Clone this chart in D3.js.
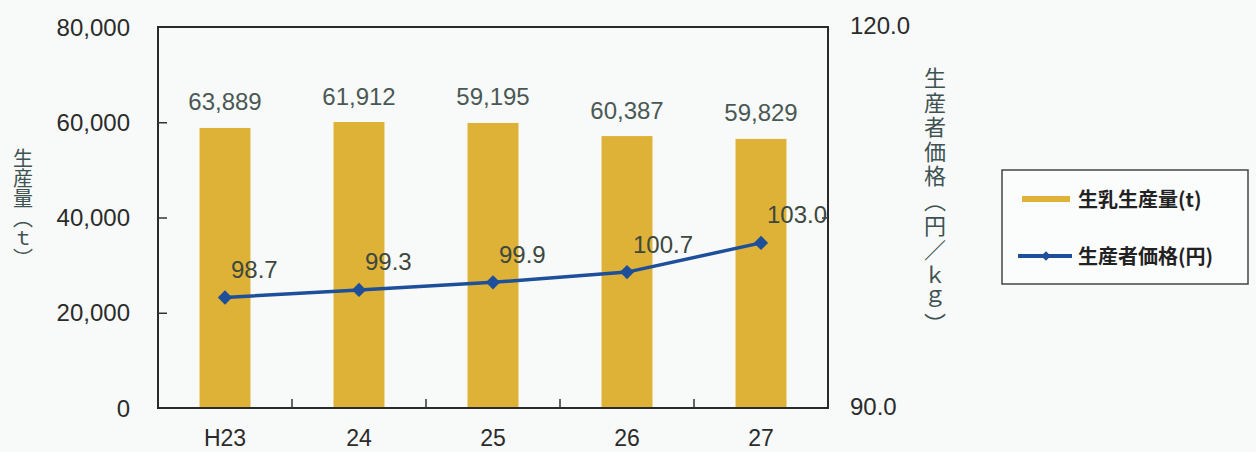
<!DOCTYPE html>
<html>
<head>
<meta charset="utf-8">
<script src="https://cdn.jsdelivr.net/npm/d3@7"></script>
<style>
  html, body { margin: 0; padding: 0; background: #f8faf9; }
  svg { display: block; }
  .vtitle { writing-mode: vertical-rl; }
</style>
</head>
<body>
<svg id="chart" width="1256" height="452"></svg>
<script>
// ---- data ----
const categories = ["H23", "24", "25", "26", "27"];
// value labels printed above the bars (t)
const productionLabels = [63889, 61912, 59195, 60387, 59829];
// bar heights as drawn in the picture (t)
const productionBars = [58800, 60050, 59850, 57100, 56500];
// producer price (yen/kg)
const producerPrice = [98.7, 99.3, 99.9, 100.7, 103.0];
const leftTicks = [0, 20000, 40000, 60000, 80000];
const rightTicks = [90, 120];
const leftTitle = "生産量（ｔ）";
const rightTitle = "生産者価格（円／ｋｇ）";
const legendItems = ["生乳生産量(t)", "生産者価格(円)"];

// ---- layout ----
const plot = { left: 158, right: 828, top: 27, bottom: 408 };
const barColor = "#ddb236";
const lineColor = "#1d4f9b";
const numFont = "'Liberation Sans', Arial, sans-serif";
const cjkFont = "'Noto Sans CJK JP', sans-serif";

const svg = d3.select("#chart");

const x = d3.scaleBand().domain(categories).range([plot.left, plot.right]).padding(0);
const yL = d3.scaleLinear().domain([0, 80000]).range([plot.bottom, plot.top]);
const yR = d3.scaleLinear().domain([90, 120]).range([plot.bottom, plot.top]);
const fmt = d3.format(",");

// bars
const barW = x.bandwidth() * 0.38;
svg.append("g").selectAll("rect").data(productionBars).join("rect")
  .attr("x", (d, i) => x(categories[i]) + x.bandwidth() / 2 - barW / 2)
  .attr("y", d => yL(d))
  .attr("width", barW)
  .attr("height", d => yL(0) - yL(d))
  .attr("fill", barColor);

// bar labels
svg.append("g").selectAll("text").data(productionLabels).join("text")
  .attr("x", (d, i) => x(categories[i]) + x.bandwidth() / 2)
  .attr("y", (d, i) => yL(productionBars[i]) - 26)
  .attr("text-anchor", "middle")
  .attr("dominant-baseline", "central")
  .attr("font-family", numFont)
  .attr("font-size", 24)
  .attr("fill", "#4a5855")
  .text(d => fmt(d));

// frame
svg.append("rect")
  .attr("x", plot.left).attr("y", plot.top)
  .attr("width", plot.right - plot.left).attr("height", plot.bottom - plot.top)
  .attr("fill", "none").attr("stroke", "#2a2a2a").attr("stroke-width", 2);

// left axis (ticks inward)
const leftAxis = d3.axisRight(yL).tickValues(leftTicks).tickSize(9).tickFormat("");
const gL = svg.append("g").attr("transform", `translate(${plot.left},0)`).call(leftAxis);
gL.select(".domain").remove();
gL.selectAll(".tick line").attr("stroke", "#333").attr("stroke-width", 1.5)
  .filter(d => d === 0 || d === 80000).remove();
svg.append("g").selectAll("text").data(leftTicks).join("text")
  .attr("x", 130).attr("y", d => yL(d))
  .attr("text-anchor", "end").attr("dominant-baseline", "central")
  .attr("font-family", numFont).attr("font-size", 24).attr("fill", "#2b2b2b")
  .text(d => fmt(d));

// right axis labels
svg.append("g").selectAll("text").data(rightTicks).join("text")
  .attr("x", plot.right + 22).attr("y", d => yR(d) - 2)
  .attr("text-anchor", "start").attr("dominant-baseline", "central")
  .attr("font-family", numFont).attr("font-size", 24).attr("fill", "#2b2b2b")
  .text(d => d3.format(".1f")(d));
const rightAxis = d3.axisLeft(yR).tickValues([105]).tickSize(6).tickFormat("");
const gR = svg.append("g").attr("transform", `translate(${plot.right},0)`).call(rightAxis);
gR.select(".domain").remove();
gR.selectAll(".tick line").attr("stroke", "#333").attr("stroke-width", 1.5);

// bottom axis: ticks at category boundaries, inward
const boundaries = categories.slice(1).map(c => x(c));
svg.append("g").selectAll("line").data(boundaries).join("line")
  .attr("x1", d => d).attr("x2", d => d)
  .attr("y1", plot.bottom).attr("y2", plot.bottom - 9)
  .attr("stroke", "#333").attr("stroke-width", 1.5);
const xAxis = d3.axisBottom(x).tickSize(0).tickPadding(0);
const gX = svg.append("g").attr("transform", `translate(0,${plot.bottom})`).call(xAxis);
gX.select(".domain").remove();
gX.selectAll(".tick text")
  .attr("y", 30).attr("dy", null).attr("dominant-baseline", "central")
  .attr("font-family", numFont).attr("font-size", 23).attr("fill", "#2b2b2b");

// line
const line = d3.line()
  .x((d, i) => x(categories[i]) + x.bandwidth() / 2)
  .y(d => yR(d));
svg.append("path").datum(producerPrice)
  .attr("d", line).attr("fill", "none")
  .attr("stroke", lineColor).attr("stroke-width", 3.5);
const diamond = d3.symbol().type(d3.symbolDiamond2).size(130);
svg.append("g").selectAll("path").data(producerPrice).join("path")
  .attr("transform", (d, i) => `translate(${x(categories[i]) + x.bandwidth() / 2},${yR(d)})`)
  .attr("d", diamond).attr("fill", lineColor);

// line labels
svg.append("g").selectAll("text").data(producerPrice).join("text")
  .attr("x", (d, i) => x(categories[i]) + x.bandwidth() / 2 + 6)
  .attr("y", d => yR(d) - 28)
  .attr("text-anchor", "start").attr("dominant-baseline", "central")
  .attr("font-family", numFont).attr("font-size", 24).attr("fill", "#3d4740")
  .text(d => d3.format(".1f")(d));

// axis titles (vertical writing)
svg.append("text").attr("class", "vtitle")
  .attr("x", 23).attr("y", 208)
  .attr("text-anchor", "middle")
  .attr("font-family", cjkFont).attr("font-size", 20).attr("fill", "#3e5252")
  .text(leftTitle);
svg.append("text").attr("class", "vtitle")
  .attr("x", 935).attr("y", 202)
  .attr("text-anchor", "middle")
  .attr("font-family", cjkFont).attr("font-size", 22)
  .attr("letter-spacing", 2.6).attr("fill", "#3e5252")
  .text(rightTitle);

// legend
const lg = svg.append("g");
lg.append("rect").attr("x", 1002).attr("y", 170).attr("width", 246).attr("height", 114)
  .attr("fill", "#fbfcfc").attr("stroke", "#444").attr("stroke-width", 1.5);
lg.append("line").attr("x1", 1022).attr("x2", 1070).attr("y1", 199).attr("y2", 199)
  .attr("stroke", barColor).attr("stroke-width", 6);
lg.append("line").attr("x1", 1018).attr("x2", 1072).attr("y1", 256).attr("y2", 256)
  .attr("stroke", lineColor).attr("stroke-width", 4);
lg.append("path").attr("transform", "translate(1046,256)")
  .attr("d", d3.symbol().type(d3.symbolDiamond2).size(60)).attr("fill", lineColor);
lg.selectAll("text.lt").data(legendItems).join("text").attr("class", "lt")
  .attr("x", 1078).attr("y", (d, i) => 198 + i * 57)
  .attr("dominant-baseline", "central")
  .attr("font-family", cjkFont).attr("font-size", 20).attr("font-weight", "bold")
  .attr("fill", "#222")
  .text(d => d);
</script>
</body>
</html>
